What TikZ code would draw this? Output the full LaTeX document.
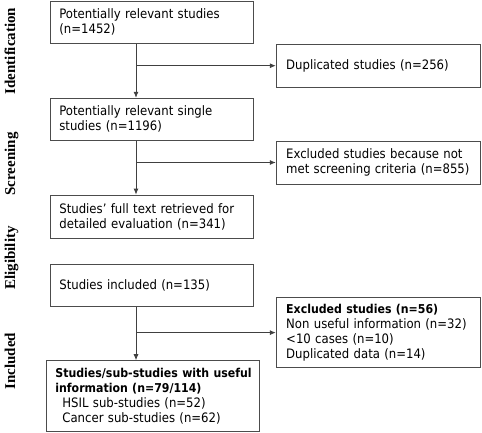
\documentclass[tikz,border=0pt]{standalone}
\usepackage{fontspec}
\setmainfont{DejaVu Sans Condensed}
\newfontfamily\phasefont{Liberation Serif}
\usetikzlibrary{arrows.meta,calc,positioning}
\newcommand\boxfont{\fontsize{13}{15}\selectfont}
\newcommand\headfont{\fontsize{12.2}{15}\selectfont\bfseries}
\tikzset{%
	box/.style     = {draw=black!70, line width=0.8pt, rectangle, inner xsep=9pt, inner ysep=2pt, text width=185pt, align=left, font=\boxfont},
	sidebox/.style = {box, inner xsep=10pt, text width=184pt},
	phase/.style   = {rotate=90, anchor=base, font=\phasefont\bfseries\fontsize{15}{15}\selectfont}, % stage label
	arrow/.style   = {draw=black!75, line width=0.8pt, -{Latex[length=6pt,width=5pt]}},
}

\begin{document}
\begin{tikzpicture}
	\useasboundingbox (0,0) rectangle (482pt,-432pt);
	% main column
	\node [box, minimum height=42pt, anchor=north west] (ident) at (50pt,-1pt) {Potentially relevant studies\\(n=1452)};
	\node [box, minimum height=42pt, below=54pt of ident.south west, anchor=north west] (single) {Potentially relevant single\\studies (n=1196)};
	\node [box, minimum height=43pt, below=54pt of single.south west, anchor=north west] (fulltext) {Studies' full text retrieved for\\detailed evaluation (n=341)};
	\node [box, minimum height=42pt, below=26pt of fulltext.south west, anchor=north west] (incl) {Studies included (n=135)};
	\node [box, text width=195pt, minimum height=71pt, below left=53pt and 4pt of incl.south west, anchor=north west] (useful) {\mbox{\headfont Studies/sub-studies with useful}\\\mbox{\headfont information (n=79/114)}\\\hspace*{7pt}HSIL sub-studies (n=52)\\\hspace*{7pt}Cancer sub-studies (n=62)};
	% excluded column
	\node [sidebox, minimum height=43pt, right=22pt of ident.south east, anchor=north west] (dup) {Duplicated studies (n=256)};
	\node [sidebox, minimum height=43pt, right=22pt of single.south east, anchor=north west] (excl) {Excluded studies because not\\met screening criteria (n=855)};
	\node [sidebox, minimum height=70pt, below right=-10pt and 22pt of incl.south east, anchor=north west] (exclb) {\mbox{\headfont Excluded studies (n=56)}\\Non useful information (n=32)\\<10 cases (n=10)\\Duplicated data (n=14)};
	% stage labels
	\node [phase] (lident) at (15pt,-51pt) {Identification};
	\node [phase] (lscreen) at (15pt,-164pt) {Screening};
	\node [phase] (lelig) at (15pt,-258pt) {Eligibility};
	\node [phase] (lincl) at (15pt,-361pt) {Included};
	
	\coordinate (t1) at ([xshift=86pt]ident.south west);
	\coordinate (t2) at ([xshift=86pt]single.south west);
	\coordinate (t3) at ([xshift=86pt]incl.south west);
	\draw[arrow] (t1) -- (t1 |- single.north);
	\draw[arrow] (t1 |- dup.west) -- (dup.west);
	\draw[arrow] (t2) -- (t2 |- fulltext.north);
	\draw[arrow] (t2 |- excl.west) -- (excl.west);
	\draw[arrow] (t3) -- (t3 |- useful.north);
	\draw[arrow] (t3 |- exclb.west) -- (exclb.west);
\end{tikzpicture}
\end{document}
